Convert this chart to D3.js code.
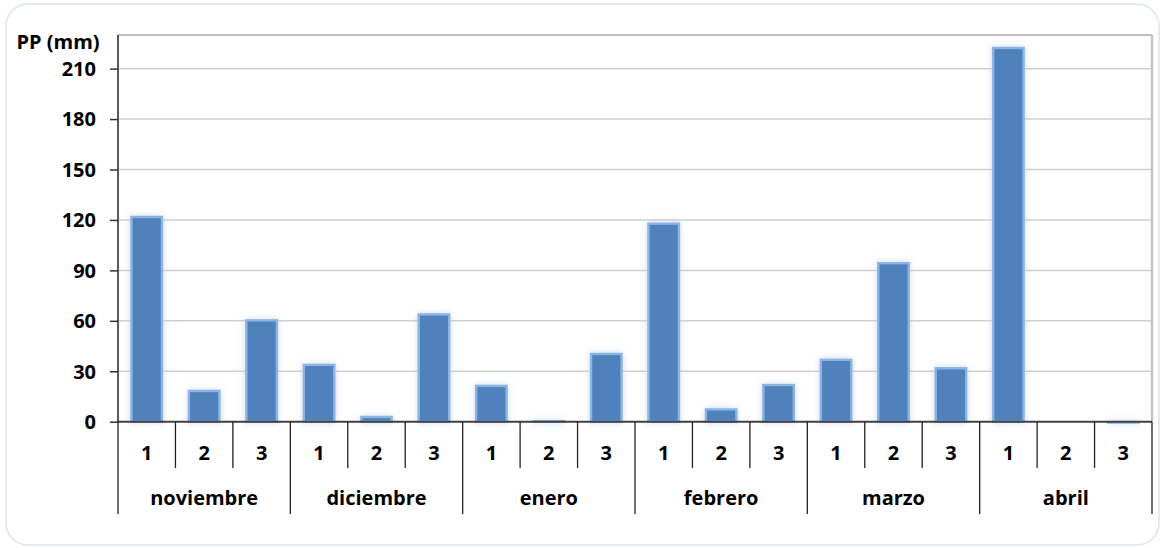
<!DOCTYPE html>
<html>
<head>
<meta charset="utf-8">
<script src="https://cdn.jsdelivr.net/npm/d3@7"></script>
<style>
  html, body { margin: 0; padding: 0; background: #ffffff; }
  svg { display: block; }
  text { font-family: "Open Sans", "Noto Sans", sans-serif; font-weight: 700; fill: #000; }
</style>
</head>
<body>
<script>
// Precipitation by ten-day period (1, 2, 3) for each month
const months = ["noviembre", "diciembre", "enero", "febrero", "marzo", "abril"];
const periods = ["1", "2", "3"];
const noviembre = [122.5, 19, 61];
const diciembre = [34.5, 3.5, 64.5];
const enero = [22, 1, 41];
const febrero = [118.5, 8, 22.5];
const marzo = [37.5, 95, 32.5];
const abril = [223, 0, 0.5];
const yTicks = [0, 30, 60, 90, 120, 150, 180, 210];
const yLabel = "PP (mm)";

const seriesByMonth = [noviembre, diciembre, enero, febrero, marzo, abril];
const data = [];
months.forEach((m, mi) => {
  periods.forEach((p, pi) => {
    data.push({ month: m, period: p, key: m + "-" + p, value: seriesByMonth[mi][pi] });
  });
});

const W = 1163, H = 548;
const plot = { left: 118, right: 1152, top: 35, bottom: 421.7 };
const FS = 20;

const svg = d3.select("body").append("svg").attr("width", W).attr("height", H);

// soft glow behind the bars
const defs = svg.append("defs");
const glow = defs.append("filter").attr("id", "glow")
  .attr("x", "-40%").attr("y", "-40%").attr("width", "180%").attr("height", "180%");
glow.append("feGaussianBlur").attr("in", "SourceAlpha").attr("stdDeviation", 3).attr("result", "blur");
glow.append("feFlood").attr("flood-color", "#b9cde6").attr("flood-opacity", 0.75).attr("result", "col");
glow.append("feComposite").attr("in", "col").attr("in2", "blur").attr("operator", "in").attr("result", "shadow");
const merge = glow.append("feMerge");
merge.append("feMergeNode").attr("in", "shadow");
merge.append("feMergeNode").attr("in", "SourceGraphic");

// outer frame
svg.append("rect")
  .attr("x", 6).attr("y", 4).attr("width", W - 10).attr("height", H - 7)
  .attr("rx", 22).attr("ry", 22)
  .attr("fill", "#ffffff").attr("stroke", "#dbe4ef").attr("stroke-width", 1.5);

const x = d3.scaleBand().domain(data.map(d => d.key)).range([plot.left, plot.right]).padding(0);
const xMonth = d3.scaleBand().domain(months).range([plot.left, plot.right]).padding(0);
const y = d3.scaleLinear().domain([0, 230]).range([plot.bottom, plot.top]);

// gridlines
svg.append("g").selectAll("line").data(yTicks.filter(t => t > 0)).join("line")
  .attr("x1", plot.left).attr("x2", plot.right)
  .attr("y1", d => y(d)).attr("y2", d => y(d))
  .attr("stroke", "#cfcfcf").attr("stroke-width", 1.5);

// plot border (top and right)
svg.append("line").attr("x1", plot.left).attr("x2", plot.right)
  .attr("y1", plot.top).attr("y2", plot.top)
  .attr("stroke", "#bdbdbd").attr("stroke-width", 2);
svg.append("line").attr("x1", plot.right).attr("x2", plot.right)
  .attr("y1", plot.top).attr("y2", plot.bottom)
  .attr("stroke", "#c4c4c4").attr("stroke-width", 2.5);

// bars
const barW = x.bandwidth() * 0.53;
svg.append("g").attr("filter", "url(#glow)").selectAll("rect").data(data.filter(d => d.value > 0)).join("rect")
  .attr("x", d => x(d.key) + (x.bandwidth() - barW) / 2)
  .attr("y", d => y(d.value) + 1.2)
  .attr("width", barW)
  .attr("height", d => Math.max(0.5, y(0) - y(d.value) - 1.2))
  .attr("fill", "#4f81bd")
  .attr("stroke", "#8db3e2")
  .attr("stroke-width", 2.4);

// y axis
const yAxis = svg.append("g").attr("transform", `translate(${plot.left},0)`)
  .call(d3.axisLeft(y).tickValues(yTicks).tickSize(8).tickPadding(14).tickFormat(d3.format("d")));
yAxis.select(".domain").attr("stroke", "#595959").attr("stroke-width", 2)
  .attr("d", `M0,${plot.top}V${plot.bottom}`);
yAxis.selectAll(".tick line").attr("stroke", "#333").attr("stroke-width", 1.5);
yAxis.selectAll(".tick text").attr("font-size", FS).attr("fill", "#000")
  .attr("font-family", "'Open Sans', sans-serif").attr("font-weight", 700).attr("dy", "0.34em");

svg.append("text").attr("x", 58).attr("y", 42).attr("dy", "0.34em")
  .attr("text-anchor", "middle").attr("font-size", FS).text(yLabel);

// x axis line
svg.append("line").attr("x1", plot.left - 1).attr("x2", plot.right)
  .attr("y1", plot.bottom).attr("y2", plot.bottom)
  .attr("stroke", "#404040").attr("stroke-width", 2);

// period separators and labels
const inner = d3.range(1, data.length).filter(i => i % 3 !== 0);
svg.append("g").selectAll("line").data(inner).join("line")
  .attr("x1", i => x(data[i].key)).attr("x2", i => x(data[i].key))
  .attr("y1", plot.bottom).attr("y2", 468)
  .attr("stroke", "#222").attr("stroke-width", 1.3);

svg.append("g").selectAll("text").data(data).join("text")
  .attr("x", d => x(d.key) + x.bandwidth() / 2)
  .attr("y", 453).attr("dy", "0.35em")
  .attr("text-anchor", "middle").attr("font-size", FS)
  .text(d => d.period);

// month separators and labels
const monthEdges = months.map(m => xMonth(m)).concat([plot.right]);
svg.append("g").selectAll("line").data(monthEdges).join("line")
  .attr("x1", d => d).attr("x2", d => d)
  .attr("y1", plot.bottom).attr("y2", 514)
  .attr("stroke", "#222").attr("stroke-width", 1.3);

svg.append("g").selectAll("text").data(months).join("text")
  .attr("x", d => xMonth(d) + xMonth.bandwidth() / 2)
  .attr("y", 498).attr("dy", "0.35em")
  .attr("text-anchor", "middle").attr("font-size", FS)
  .text(d => d);
</script>
</body>
</html>
